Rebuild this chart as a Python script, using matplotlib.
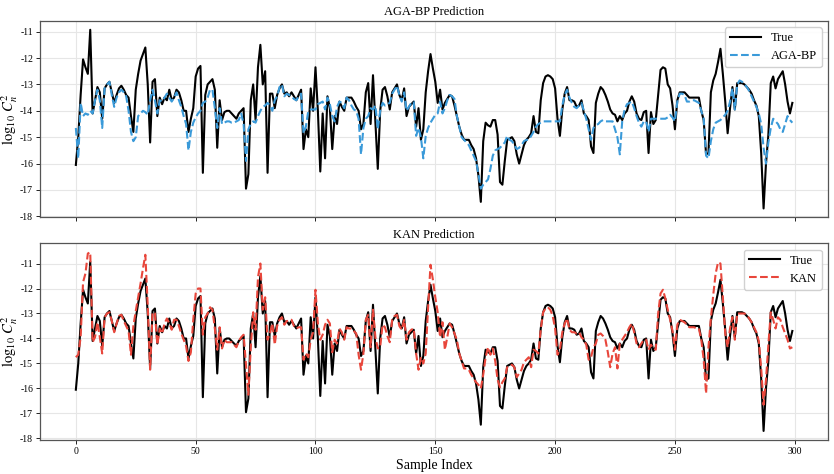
import numpy as np
import matplotlib
matplotlib.use("Agg")
import matplotlib.pyplot as plt

# values (log10 Cn^2), sample index 0..299
true_vals = [
    -16.05, -15.0, -13.4, -12.05, -12.35, -12.6, -10.93, -14.1, -13.6, -13.1,
    -13.3, -14.3, -13.15, -13.0, -12.9, -13.3, -13.7, -13.4, -13.15, -13.05,
    -13.2, -13.4, -13.5, -14.2, -14.8, -13.2, -12.6, -12.1, -11.85, -11.6,
    -13.0, -15.2, -12.9, -12.8, -14.2, -13.5, -13.75, -13.5, -13.6, -13.2,
    -13.6, -13.5, -13.2, -13.3, -13.6, -14.0, -14.0, -14.8, -14.3, -13.9,
    -12.7, -12.4, -12.3, -16.35, -13.4, -13.0, -12.9, -12.8, -13.2, -15.4,
    -13.6, -14.35, -14.05, -14.0, -14.0, -14.1, -14.2, -14.3, -14.1, -14.0,
    -13.9, -16.95, -16.4, -13.6, -13.0, -14.35, -12.35, -11.5, -13.0, -12.5,
    -16.35, -13.35, -13.35, -13.9, -13.4, -13.15, -13.0, -13.35, -13.3, -13.45,
    -13.3, -13.45, -13.6, -13.4, -13.2, -15.45, -14.7, -15.0, -13.15, -14.0,
    -12.35, -14.0, -16.3, -14.1, -15.8, -13.45, -13.9, -15.45, -14.2, -14.5,
    -13.65, -13.85, -14.0, -13.5, -13.5, -13.5, -13.65, -13.85, -14.0, -14.7,
    -14.5, -13.3, -12.95, -14.5, -12.65, -14.4, -16.2, -14.0, -13.2, -13.1,
    -13.45, -13.95, -13.3, -13.15, -13.0, -13.4, -13.6, -13.15, -14.2, -13.85,
    -13.75, -13.65, -14.6, -13.9, -15.1, -14.7, -13.3, -12.5, -11.85, -12.4,
    -12.9, -13.7, -13.2, -13.95, -13.7, -13.55, -13.4, -13.45, -13.8, -14.2,
    -14.6, -14.9, -15.1, -15.1, -15.1, -15.3, -15.45, -15.8, -16.45, -17.45,
    -15.15, -14.45, -14.55, -14.6, -14.35, -14.35, -14.9, -16.7, -16.8, -15.9,
    -15.1, -15.05, -15.0, -15.15, -15.65, -16.0, -15.65, -15.3, -15.1, -15.0,
    -14.85, -14.2, -14.8, -14.85, -13.6, -12.95, -12.7, -12.65, -12.7, -12.8,
    -13.15, -14.3, -14.95, -13.95, -13.35, -13.1, -13.6, -13.6, -13.65, -13.85,
    -13.8, -13.6, -14.1, -14.2, -14.35, -15.35, -15.6, -13.7, -13.35, -13.1,
    -13.2, -13.4, -13.65, -13.95, -14.1, -14.15, -14.4, -14.2, -14.35, -14.1,
    -14.0, -13.65, -13.45, -13.65, -14.1, -14.3, -14.35, -14.05, -14.0, -15.6,
    -14.05, -14.5, -14.35, -13.4, -12.45, -12.35, -12.4, -13.0, -13.15, -13.8,
    -14.7, -13.6, -13.3, -13.3, -13.3, -13.4, -13.5, -13.5, -13.5, -13.5,
    -13.5, -14.0, -14.35, -15.65, -15.6, -13.3, -12.85, -12.6, -12.15, -11.65,
    -12.6, -13.65, -14.85, -13.9, -13.1, -13.95, -12.95, -12.95, -12.95, -13.0,
    -13.1, -13.2, -13.35, -13.6, -13.8, -14.2, -15.6, -17.7, -16.0, -14.9,
    -12.95, -12.7, -13.15, -12.8, -12.65, -12.5, -13.0, -13.65, -14.1, -13.7,
]

aga_bp_vals = [
    -14.65, -15.8, -13.7, -14.2, -14.1, -14.15, -14.0, -14.1, -13.6, -13.2,
    -13.6, -14.65, -13.15, -13.0, -12.9, -13.4, -13.85, -13.5, -13.3, -13.2,
    -13.3, -13.45, -14.0, -14.8, -15.15, -15.0, -14.2, -14.1, -14.0, -14.05,
    -14.15, -13.6, -13.2, -13.6, -14.1, -13.6, -13.65, -13.5, -13.35, -13.5,
    -13.65, -13.5, -13.3, -13.6, -13.85, -14.2, -14.5, -15.5, -14.8, -14.45,
    -14.25, -14.1, -14.0, -13.7, -13.65, -13.5, -13.2, -13.2, -13.9, -14.65,
    -13.9, -14.5, -14.45, -14.4, -14.4, -14.45, -14.45, -14.4, -14.35, -14.1,
    -14.5, -15.9, -14.7, -14.5, -14.4, -14.45, -14.2, -14.0, -13.85, -13.8,
    -13.7, -13.8, -14.0, -13.6, -13.45, -13.1, -13.0, -13.45, -13.35, -13.4,
    -13.45, -13.55, -13.6, -13.45, -13.35, -14.85, -14.6, -14.0, -13.95, -13.95,
    -13.95, -13.75, -13.7, -13.65, -13.95, -13.5, -13.75, -14.2, -14.4, -13.85,
    -13.65, -13.7, -13.9, -13.5, -13.6, -13.8, -13.95, -14.0, -14.3, -15.65,
    -14.65, -14.3, -14.2, -13.9, -13.95, -13.8, -14.7, -14.0, -13.7, -13.8,
    -13.75, -13.7, -13.35, -13.2, -13.05, -13.4, -13.65, -13.3, -14.0, -13.85,
    -13.7, -13.65, -14.95, -14.65, -15.0, -15.8, -14.95, -14.65, -14.45, -14.3,
    -14.15, -14.1, -13.65, -14.1, -13.9, -13.6, -13.4, -13.45, -13.55, -14.2,
    -14.6, -15.0, -15.1, -15.2, -15.3, -15.5, -15.7, -15.9, -16.4, -16.95,
    -16.8, -16.7, -16.6, -16.2, -15.7, -15.5, -15.45, -15.4, -15.3, -15.2,
    -14.95, -15.1, -15.15, -15.3, -15.45, -15.4, -15.3, -15.15, -15.1, -15.1,
    -14.95, -14.8, -14.6, -14.5, -14.45, -14.4, -14.4, -14.4, -14.4, -14.4,
    -14.4, -14.4, -14.4, -13.8, -13.4, -13.2, -13.5, -13.7, -13.85, -13.9,
    -13.8, -13.7, -14.0, -14.3, -14.7, -15.1, -14.65, -14.55, -14.5, -14.4,
    -14.35, -14.4, -14.4, -14.4, -14.4, -14.7, -15.0, -15.65, -14.4, -13.95,
    -13.75, -13.7, -13.65, -13.9, -14.2, -14.45, -14.6, -14.4, -14.4, -14.8,
    -14.3, -14.3, -14.3, -14.3, -14.3, -14.3, -14.3, -14.25, -14.15, -14.25,
    -14.4, -13.65, -13.35, -13.35, -13.4, -13.65, -13.65, -13.6, -13.6, -13.65,
    -13.7, -14.0, -14.3, -15.7, -15.8, -15.15, -14.7, -14.45, -14.4, -14.35,
    -14.25, -14.15, -14.0, -13.65, -13.15, -13.95, -13.0, -12.85, -12.9, -13.0,
    -13.1, -13.25, -13.45, -13.65, -13.85, -14.1, -14.5, -15.4, -16.0, -15.2,
    -14.65, -14.3, -14.4, -14.5, -14.7, -14.8, -14.5, -14.2, -14.35, -14.45,
]

kan_vals = [
    -14.75, -14.65, -13.95, -11.75, -11.4, -10.6, -10.55, -14.15, -13.95, -13.35,
    -13.95, -14.6, -13.15, -13.0, -12.95, -13.3, -13.75, -13.4, -13.1, -13.05,
    -13.3, -13.5, -13.7, -14.65, -13.5, -12.9, -12.35, -11.8, -11.2, -10.65,
    -12.7, -15.25, -12.95, -13.0, -14.25, -13.6, -13.8, -13.4, -13.2, -13.4,
    -13.65, -13.25, -13.25, -13.5, -13.8, -14.05, -14.3, -14.9, -14.55, -13.25,
    -12.2, -12.0, -12.0, -13.85, -13.15, -13.0, -12.75, -12.85, -13.6, -14.45,
    -13.55, -14.4, -14.05, -14.15, -14.15, -14.15, -14.25, -14.35, -14.1, -13.95,
    -13.85, -15.05, -16.25, -14.35, -12.95, -13.65, -11.55, -11.0, -12.85, -12.35,
    -14.05, -13.8, -13.4, -14.25, -13.5, -13.25, -13.15, -13.45, -13.3, -13.3,
    -13.25, -13.5, -13.6, -13.55, -13.55, -14.85, -14.6, -14.75, -14.05, -13.75,
    -12.05, -13.4, -14.05, -13.85, -13.45, -13.25, -13.4, -14.55, -14.05, -14.2,
    -13.6, -13.75, -14.05, -13.55, -13.6, -13.6, -13.7, -13.8, -14.65, -15.25,
    -14.6, -13.25, -13.05, -14.35, -12.85, -13.95, -14.4, -14.35, -13.45, -13.55,
    -13.9, -14.15, -13.25, -13.1, -13.05, -13.5, -13.65, -13.25, -14.05, -13.75,
    -13.65, -13.6, -14.6, -15.25, -14.75, -15.0, -14.6, -12.75, -11.05, -11.65,
    -12.35, -12.95, -13.95, -13.35, -14.45, -13.95, -13.4, -13.55, -13.8, -14.05,
    -14.6, -14.9, -15.2, -15.2, -15.25, -15.45, -15.6, -15.75, -15.85, -16.0,
    -15.45, -14.75, -14.35, -14.65, -14.4, -14.9, -15.65, -15.95, -15.75, -15.6,
    -15.15, -15.1, -15.05, -15.15, -15.55, -15.4, -15.25, -14.95, -14.85, -14.75,
    -15.15, -14.45, -14.5, -14.6, -13.65, -12.95, -12.8, -12.75, -12.85, -13.1,
    -13.6, -14.65, -14.45, -13.75, -13.4, -13.2, -13.65, -13.75, -13.75, -13.8,
    -13.75, -13.95, -14.05, -14.25, -14.85, -14.75, -14.35, -14.2, -13.85, -13.8,
    -13.9, -14.05, -14.55, -15.15, -14.6, -14.35, -15.2, -14.2, -14.05, -13.9,
    -13.75, -13.55, -13.4, -13.75, -14.2, -14.35, -14.2, -14.05, -14.05, -14.45,
    -14.25, -14.4, -14.45, -13.0, -12.2, -12.05, -12.4, -12.85, -13.25, -13.7,
    -14.45, -13.45, -13.25, -13.3, -13.35, -13.45, -13.55, -13.55, -13.55, -13.6,
    -13.6, -14.05, -14.85, -16.2, -14.35, -13.2, -12.25, -11.4, -10.95, -11.0,
    -12.35, -13.8, -14.35, -13.6, -13.15, -14.05, -13.0, -13.0, -13.0, -13.0,
    -13.05, -13.2, -13.35, -13.55, -13.75, -14.1, -15.2, -16.65, -15.65, -14.25,
    -12.95, -13.25, -13.6, -13.15, -13.25, -13.55, -13.8, -14.05, -14.4, -14.35,
]

sample_index = np.arange(len(true_vals))

plt.rcParams["font.family"] = ["Liberation Serif", "DejaVu Serif"]
plt.rcParams["mathtext.fontset"] = "stix"
plt.rcParams["axes.unicode_minus"] = False

fig, axes = plt.subplots(2, 1, figsize=(8.34, 4.74), dpi=100, sharex=True)
fig.subplots_adjust(left=0.048, right=0.993, top=0.956, bottom=0.072, hspace=0.132)

panels = [
    (axes[0], aga_bp_vals, "AGA-BP", "#3a9ad9", "AGA-BP Prediction"),
    (axes[1], kan_vals, "KAN", "#e8463b", "KAN Prediction"),
]

for ax, pred, name, color, title in panels:
    ax.plot(sample_index, true_vals, color="black", linewidth=1.5, label="True")
    ax.plot(sample_index, pred, color=color, linestyle="--", linewidth=1.5, label=name)
    ax.set_title(title, fontsize=9, pad=4)
    ax.set_ylabel(r"$\log_{10}\, C_n^2$", fontsize=10.5, labelpad=0)
    ax.set_yticks([-11, -12, -13, -14, -15, -16, -17, -18])
    ax.grid(True, color="#e6e6e6", linewidth=0.8)
    ax.set_axisbelow(True)
    ax.tick_params(labelsize=7, length=3, width=0.6, pad=2)
    for s in ax.spines.values():
        s.set_color("#555555")
        s.set_linewidth(0.9)
    ax.legend(loc="upper right", fontsize=9, framealpha=0.9, edgecolor="#cccccc",
              handlelength=2.5)

axes[1].set_xticks([0, 50, 100, 150, 200, 250, 300])
axes[1].set_xlabel("Sample Index", fontsize=10, labelpad=2)

plt.savefig("out.png", dpi=100)
